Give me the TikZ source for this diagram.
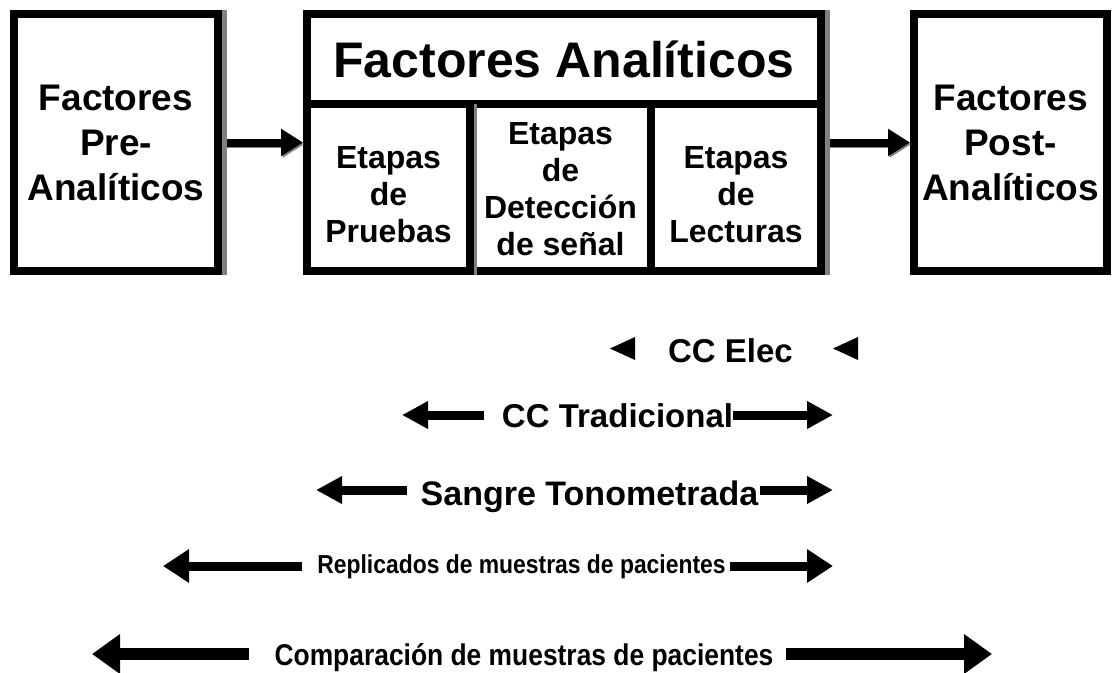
\documentclass[tikz,border=0pt]{standalone}
\usepackage{graphicx}
\usepackage{fontspec}
\setmainfont{Liberation Sans}
\usetikzlibrary{arrows.meta}
\usetikzlibrary{calc}
\usetikzlibrary{positioning}

\newcommand{\estrecho}[1]{\scalebox{0.88}[1]{#1}}

\begin{document}
\begin{tikzpicture}[x=1pt,y=-1pt,
  caja/.style={draw,line width=8pt,fill=white,inner sep=0pt,align=center},
  txtgrande/.style={font=\fontsize{37}{45}\selectfont\bfseries},
  txtcelda/.style={font=\fontsize{32}{37}\selectfont\bfseries,align=center,inner sep=0pt},
  txtfila/.style={font=\fontsize{34}{38}\selectfont\bfseries,inner sep=0pt,anchor=base},
  sombra/.style={draw=gray,line width=5pt},
  flecha/.style={line width=8pt,-{Triangle[length=22pt,width=26pt]}},
  flechab/.style={line width=9pt,-{Triangle[length=26pt,width=26pt]}},
  flechac/.style={line width=9pt,-{Triangle[length=26pt,width=32pt]}},
  flechad/.style={line width=12pt,-{Triangle[length=28pt,width=38pt]}}]
  \useasboundingbox (0,0) rectangle (1115,672);

  % cajas
  \node[caja,txtgrande,minimum width=204pt,minimum height=257pt] (pre) at (116,142.5) {Factores\\Pre-\\Analíticos};
  \node[caja,font=\fontsize{50}{56}\selectfont\bfseries,minimum width=514pt,minimum height=90pt] (tit) at (564,59) {Factores Analíticos};
  \node[caja,minimum width=163pt,minimum height=167pt] (pruebas) at (388.5,187.5) {};
  \node[caja,minimum width=181pt,minimum height=167pt] (deteccion) at (560.5,187.5) {};
  \node[caja,minimum width=170pt,minimum height=167pt] (lecturas) at (736,187.5) {};
  \node[caja,txtgrande,minimum width=193pt,minimum height=257pt] (post) at (1010.5,142.5) {Factores\\Post-\\Analíticos};

  \node[txtcelda] (pruebastxt) at ([yshift=-7pt]pruebas.center) {Etapas\\de\\Pruebas};
  \node[txtcelda] (detecciontxt) at ([yshift=-2pt]deteccion.center) {Etapas\\de\\Detección\\de señal};
  \node[txtcelda] (lecturastxt) at ([yshift=-7pt]lecturas.center) {Etapas\\de\\Lecturas};

  % flechas entre cajas
  \draw[flecha,gray,transform canvas={xshift=1.5pt,yshift=-1.5pt}] (pre.east) -- (pre.east -| pruebas.west);
  \draw[flecha] (pre.east) -- (pre.east -| pruebas.west);
  \draw[flecha,gray,transform canvas={xshift=1.5pt,yshift=-1.5pt}] (post.west -| lecturas.east) -- (post.west);
  \draw[flecha] (post.west -| lecturas.east) -- (post.west);

  % sombras
  \draw[sombra] ([xshift=2.5pt]pre.north east) -- ([xshift=2.5pt]pre.south east);
  \draw[sombra] ([xshift=2.5pt]tit.north east) -- ([xshift=2.5pt]lecturas.south east);
  \draw[sombra,line width=3pt] ([xshift=1.5pt,yshift=-4pt]pruebas.north east) -- ([xshift=1.5pt]pruebas.south east);

  % alcances
  \node[txtfila,font=\fontsize{33}{38}\selectfont\bfseries] (elec) at (730.5,362) {CC Elec};
  \fill (635,337) -- (610,348.5) -- (635,360) -- cycle;
  \fill (858,337) -- (833,348.5) -- (858,360) -- cycle;

  \node[txtfila,font=\fontsize{33}{38}\selectfont\bfseries] (trad) at (617.5,427) {CC Tradicional};
  \coordinate (tradI) at (402,415);
  \coordinate (tradD) at (833,415);
  \draw[flechab] ($(trad.west |- tradI)+(-18,0)$) -- (tradI);
  \draw[flechab] (trad.east |- tradD) -- (tradD);

  \node[txtfila] (sangre) at (589.5,505) {Sangre Tonometrada};
  \coordinate (sanI) at (316,490);
  \coordinate (sanD) at (833,490);
  \draw[flechab] ($(sangre.west |- sanI)+(-14,0)$) -- (sanI);
  \draw[flechab] ($(sangre.east |- sanD)+(2,0)$) -- (sanD);

  \node[txtfila,font=\fontsize{26}{30}\selectfont\bfseries] (repl) at (521.5,573) {\estrecho{Replicados de muestras de pacientes}};
  \coordinate (repI) at (163,566);
  \coordinate (repD) at (833,566);
  \draw[flechac] ($(repl.west |- repI)+(-15,0)$) -- (repI);
  \draw[flechac] ($(repl.east |- repD)+(4,0)$) -- (repD);

  \node[txtfila,font=\fontsize{30}{34}\selectfont\bfseries] (comp) at (524,665) {\estrecho{Comparación de muestras de pacientes}};
  \coordinate (comI) at (92,654);
  \coordinate (comD) at (992,654);
  \draw[flechad] ($(comp.west |- comI)+(-25,0)$) -- (comI);
  \draw[flechad] ($(comp.east |- comD)+(12,0)$) -- (comD);
\end{tikzpicture}
\end{document}
